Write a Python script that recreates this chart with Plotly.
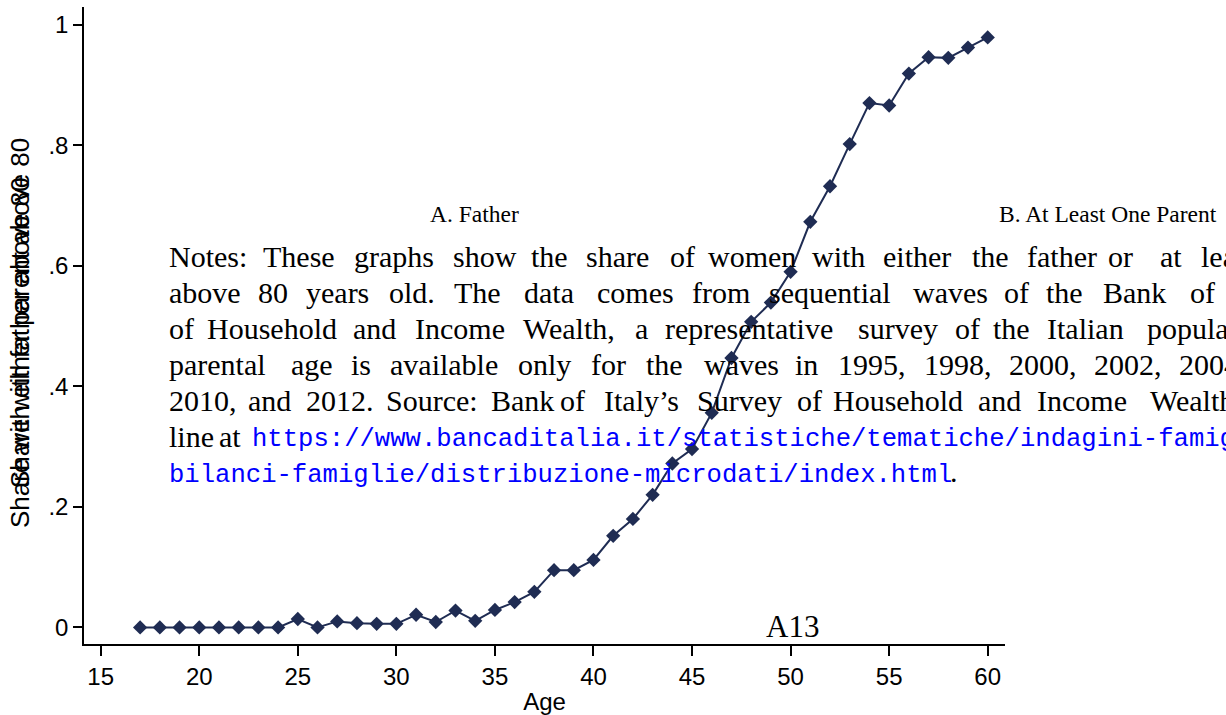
import plotly.graph_objects as go

# ---- data -------------------------------------------------------------
ages = list(range(17, 61))
share_father_80 = [
    0.000, 0.000, 0.000, 0.000, 0.000, 0.000, 0.000, 0.000,   # 17-24
    0.014, 0.000, 0.010, 0.007, 0.006, 0.006,                 # 25-30
    0.021, 0.009, 0.028, 0.011, 0.029, 0.042, 0.059,          # 31-37
    0.095, 0.095, 0.112, 0.152, 0.180, 0.220, 0.272,          # 38-44
    0.296, 0.356, 0.447, 0.507, 0.539, 0.590, 0.673,          # 45-51
    0.732, 0.802, 0.870, 0.866, 0.919, 0.946, 0.945,          # 52-58
    0.962, 0.979,                                             # 59-60
]
x_tick_vals = [15, 20, 25, 30, 35, 40, 45, 50, 55, 60]
y_tick_vals = [0, 0.2, 0.4, 0.6, 0.8, 1]
y_tick_text = ["0", ".2", ".4", ".6", ".8", "1"]

y_titles = ["Share with father above 80", "Share with either parent above 80"]
panel_titles = ["A. Father", "B. At Least One Parent"]
page_label = "A13"

# ---- page geometry (pixels) ------------------------------------------
W, H = 1226, 715
L, R, T, B = 84, 221, 7, 71
PW, PH = W - L - R, H - T - B

NAVY = "#1f2c53"
SERIF = "Liberation Serif"
SANS = "Liberation Sans"
MONO = "Liberation Mono"


def px(xp):
    return (xp - L) / PW


def py(yp):
    return (H - B - yp) / PH


fig = go.Figure()
fig.add_trace(go.Scatter(
    x=ages, y=share_father_80, mode="lines+markers",
    line=dict(color=NAVY, width=2),
    marker=dict(symbol="diamond", size=11, color=NAVY, line=dict(width=0)),
    showlegend=False, hoverinfo="skip",
))

annotations = []


def text_at(x, baseline, s, size, family=SERIF, color="#000000",
            xanchor="left", asc=0.3375):
    annotations.append(dict(
        xref="paper", yref="paper", x=px(x), y=py(baseline - asc * size),
        text=s, showarrow=False, xanchor=xanchor, yanchor="middle",
        borderpad=0, borderwidth=0,
        font=dict(family=family, size=size, color=color),
    ))


# axis titles drawn on top of each other (both panels share the frame)
for t in y_titles:
    annotations.append(dict(
        xref="paper", yref="paper", x=px(20), y=py(333), text=t,
        textangle=-90, showarrow=False, xanchor="center", yanchor="middle",
        borderpad=0, borderwidth=0,
        font=dict(family=SANS, size=26, color="#000000"),
    ))

# panel captions and page number
text_at(474.2, 221.7, panel_titles[0], 23.5, xanchor="center")
text_at(1108.2, 221.7, panel_titles[1], 23.5, xanchor="center")
text_at(792.7, 637, page_label, 31, xanchor="center")

# justified notes paragraph: each word at its own start position
NOTE_SIZE = 30
note_rows = [
    (266.7,
     ["Notes:", "These", "graphs", "show", "the", "share", "of", "women",
      "with", "either", "the", "father", "or", "at", "least"],
     [168.6, 263.3, 353.9, 452.7, 531.2, 586.3, 669.6, 707.9,
      811.6, 883.0, 971.8, 1027.1, 1108.3, 1159.8, 1200.5]),
    (302.7,
     ["above", "80", "years", "old.", "The", "data", "comes", "from",
      "sequential", "waves", "of", "the", "Bank", "of"],
     [168.6, 258.1, 306.3, 389.0, 454.4, 523.6, 597.3, 692.2,
      768.8, 913.3, 1003.8, 1045.6, 1103.0, 1190.0]),
    (338.3,
     ["of", "Household", "and", "Income", "Wealth,", "a", "representative",
      "survey", "of", "the", "Italian", "population."],
     [168.6, 206.5, 352.8, 414.8, 523.3, 635.2, 664.5,
      857.6, 955.0, 993.4, 1047.4, 1146.6]),
    (374.3,
     ["parental", "age", "is", "available", "only", "for", "the", "waves",
      "in", "1995,", "1998,", "2000,", "2002,", "2004,"],
     [168.6, 290.9, 351.1, 390.0, 518.2, 591.1, 645.5, 704.4,
      794.9, 838.4, 923.7, 1009.0, 1094.3, 1178.6]),
    (410.7,
     ["2010,", "and", "2012.", "Source:", "Bank", "of", "Italy\u2019s",
      "Survey", "of", "Household", "and", "Income", "Wealth,"],
     [168.6, 247.8, 306.3, 385.5, 490.6, 559.5, 604.2,
      697.4, 796.6, 833.2, 977.7, 1036.9, 1150.0]),
    (446.7, ["line", "at"], [168.6, 219.2]),
]
for baseline, words, xs in note_rows:
    for w, x in zip(words, xs):
        text_at(x, baseline, w, NOTE_SIZE)

URL_BLUE = "#0000ff"
MONO_SIZE = 25.6
text_at(252.3, 446.7,
        "https://www.bancaditalia.it/statistiche/tematiche/indagini-famiglie-imprese/",
        MONO_SIZE, family=MONO, color=URL_BLUE, asc=0.2665)
text_at(168.6, 482.0,
        "bilanci-famiglie/distribuzione-microdati/index.html",
        MONO_SIZE, family=MONO, color=URL_BLUE, asc=0.2665)
text_at(950.0, 482.0, ".", NOTE_SIZE)

fig.update_layout(
    width=W, height=H,
    margin=dict(l=L, r=R, t=T, b=B, pad=0, autoexpand=False),
    paper_bgcolor="white", plot_bgcolor="white",
    font=dict(family=SANS, size=24, color="#000000"),
    annotations=annotations,
    xaxis=dict(
        range=[14.153, 60.877], tickvals=x_tick_vals, automargin=False,
        showgrid=False, zeroline=False,
        showline=True, linecolor="#000000", linewidth=1.5,
        ticks="outside", ticklen=10, tickwidth=1.5, tickcolor="#000000",
        tickfont=dict(family=SANS, size=24, color="#000000"),
        title=dict(text="Age", standoff=6,
                   font=dict(family=SANS, size=24, color="#000000")),
    ),
    yaxis=dict(
        range=[-0.0275, 1.0294], tickvals=y_tick_vals, ticktext=y_tick_text,
        automargin=False,
        showgrid=False, zeroline=False,
        showline=True, linecolor="#000000", linewidth=1.5,
        ticks="outside", ticklen=9, tickwidth=1.5, tickcolor="#000000",
        tickfont=dict(family=SANS, size=24, color="#000000"),
    ),
)

fig.write_html("out.html")
